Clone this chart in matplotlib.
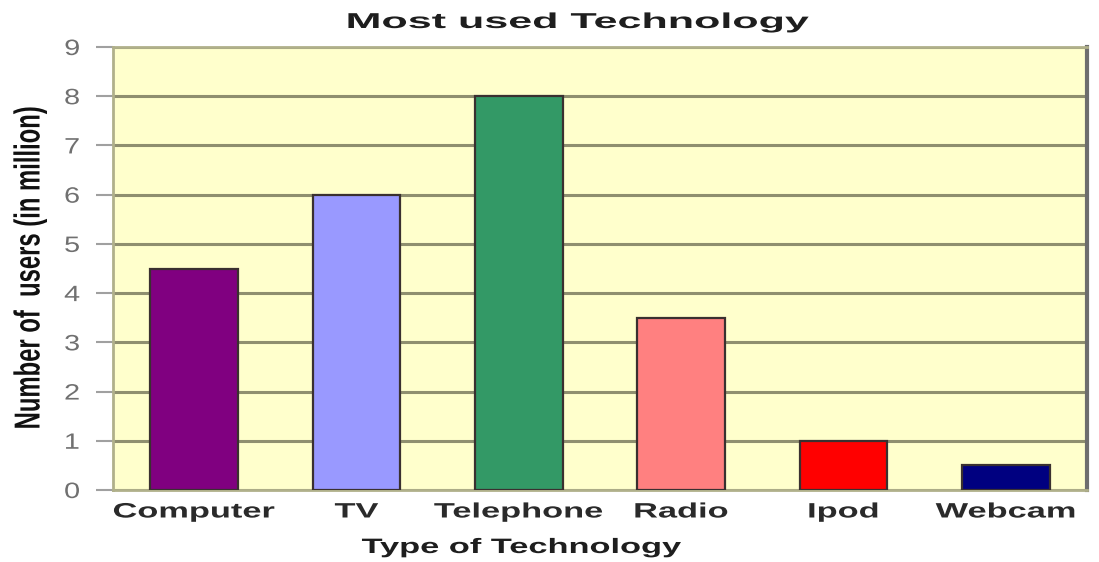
import matplotlib
matplotlib.use("Agg")
import matplotlib.pyplot as plt
from matplotlib.patheffects import AbstractPathEffect
from matplotlib.transforms import Affine2D

categories = ["Computer", "TV", "Telephone", "Radio", "Ipod", "Webcam"]
users_million = [4.5, 6, 8, 3.5, 1, 0.5]
bar_colors = ["#800080", "#9999FF", "#339966", "#FF8080", "#FF0000", "#000080"]
y_ticks = list(range(0, 10))

plt.rcParams["font.family"] = ["Liberation Sans", "DejaVu Sans"]


class Stretch(AbstractPathEffect):
    """Scale glyphs along one screen axis about the centre of the text."""

    def __init__(self, factor, axis="x"):
        super().__init__()
        self.factor = factor
        self.axis = axis

    def draw_path(self, renderer, gc, tpath, affine, rgbFace=None):
        ext = tpath.get_extents(affine)
        if self.axis == "x":
            c = (ext.x0 + ext.x1) / 2
            extra = Affine2D().translate(-c, 0).scale(self.factor, 1).translate(c, 0)
        else:
            c = (ext.y0 + ext.y1) / 2
            extra = Affine2D().translate(0, -c).scale(1, self.factor).translate(0, c)
        renderer.draw_path(gc, tpath, affine + extra, rgbFace)


W, H = 1099, 562
fig = plt.figure(figsize=(W / 100, H / 100), dpi=100)
ax = fig.add_axes([113 / W, 1 - 490 / H, (1087 - 113) / W, (490 - 47) / H])
ax.set_facecolor("#FFFFCC")

x = list(range(len(categories)))
ax.bar(x, users_million, width=0.54, color=bar_colors,
       edgecolor="#3a3030", linewidth=1.6, zorder=3)

ax.set_xlim(-0.5, len(categories) - 0.5)
ax.set_ylim(0, 9)
ax.set_yticks(y_ticks)
ax.yaxis.grid(True, color="#8f8f6f", linewidth=2.2, zorder=1)
ax.set_axisbelow(True)

ax.set_xticks(x)
ax.set_xticklabels(categories, fontsize=15, fontweight="bold", color="#2a2a2a")
for lbl in ax.get_xticklabels():
    lbl.set_path_effects([Stretch(1.65, "x")])
ax.tick_params(axis="x", length=0, pad=9)
ax.tick_params(axis="y", length=12, width=1.5, color="#a0a0a0",
               labelsize=16, labelcolor="#707070", pad=13)
for lbl in ax.get_yticklabels():
    lbl.set_path_effects([Stretch(1.3, "x")])

for side in ("top", "bottom", "left"):
    ax.spines[side].set_color("#b0b08a")
    ax.spines[side].set_linewidth(2)
ax.spines["right"].set_color("#6e6e6e")
ax.spines["right"].set_linewidth(3)

fig.text(578 / W, 1 - 28 / H, "Most used Technology", fontsize=15.5,
         fontweight="bold", color="#1e1e1e", ha="center", va="baseline",
         path_effects=[Stretch(2.0, "x")])
fig.text(522 / W, 1 - 553 / H, "Type of Technology", fontsize=15,
         fontweight="bold", color="#1e1e1e", ha="center", va="baseline",
         path_effects=[Stretch(1.65, "x")])
fig.text(30 / W, 1 - 268 / H, "Number of  users (in million)", fontsize=26,
         fontweight="bold", color="#111111", ha="center", va="center",
         rotation=90, path_effects=[Stretch(0.66, "y")])

fig.savefig("out.png", dpi=100, facecolor="white")
